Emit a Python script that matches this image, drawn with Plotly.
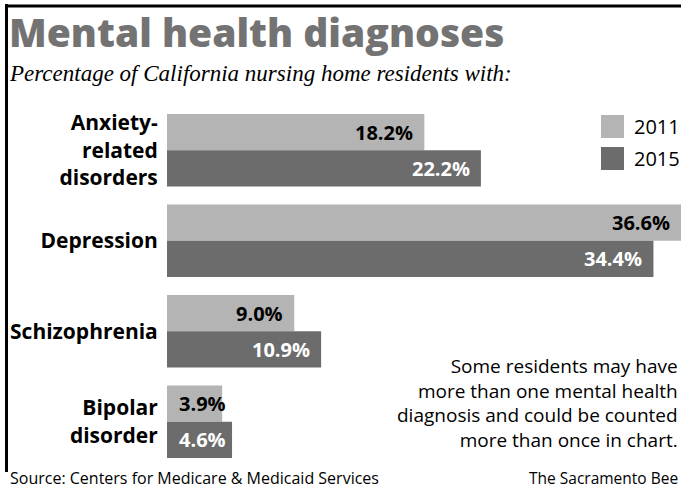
import plotly.graph_objects as go

categories = ["Anxiety-<br>related<br>disorders", "Depression", "Schizophrenia", "Bipolar<br>disorder"]
years = ["2011", "2015"]
values_2011 = [18.2, 36.6, 9.0, 3.9]
values_2015 = [22.2, 34.4, 10.9, 4.6]

LIGHT = "#b4b4b4"
DARK = "#6c6c6c"
W, H = 681, 488
L, R, T, B = 167, 0, 105, 21
PW, PH = W - L - R, H - T - B
XMAX = 36.35

def px(x):
    return (x - L) / PW

def py(y):
    return 1 - (y - T) / PH

SANS = "Open Sans, Liberation Sans, sans-serif"

fig = go.Figure()
fig.add_trace(go.Bar(y=categories, x=values_2011, orientation="h", name=years[0],
                     marker=dict(color=LIGHT, line=dict(width=0)), showlegend=False))
fig.add_trace(go.Bar(y=categories, x=values_2015, orientation="h", name=years[1],
                     marker=dict(color=DARK, line=dict(width=0)), showlegend=False))

annotations = []
for vals, shift, col in ((values_2011, 18, "black"), (values_2015, -18, "white")):
    for c, v in zip(categories, vals):
        narrow = v < 5
        annotations.append(dict(x=0 if narrow else min(v, XMAX), y=c, xref="x", yref="y",
                                text=f"{v:.1f}%",
                                xanchor="left" if narrow else "right", yanchor="middle",
                                xshift=10 if narrow else -9, yshift=shift,
                                showarrow=False,
                                font=dict(family=SANS, size=20, color=col, weight="bold")))

# title & subtitle
annotations.append(dict(x=px(7), y=py(3), xref="paper", yref="paper", text="Mental health diagnoses",
                        xanchor="left", yanchor="top", showarrow=False,
                        font=dict(family=SANS, size=39, color="#737373", weight=800)))
annotations.append(dict(x=px(7), y=py(59), xref="paper", yref="paper",
                        text="<i>Percentage of California nursing home residents with:</i>",
                        xanchor="left", yanchor="top", showarrow=False,
                        font=dict(family="Liberation Serif, serif", size=23, color="black")))
# legend
for i, (yr, col) in enumerate(zip(years, [LIGHT, DARK])):
    annotations.append(dict(x=px(632), y=py(127 + 31 * i), xref="paper", yref="paper", text=yr,
                            xanchor="left", yanchor="middle", showarrow=False,
                            font=dict(family=SANS, size=20, color="black")))
# note
annotations.append(dict(x=px(680), y=py(351), xref="paper", yref="paper",
                        text="Some residents may have<br>more than one mental health<br>diagnosis and could be counted<br>more than once in chart.",
                        xanchor="right", yanchor="top", align="right", showarrow=False,
                        font=dict(family=SANS, size=19, color="black")))
# footer
annotations.append(dict(x=px(8), y=py(478), xref="paper", yref="paper",
                        text="Source: Centers for Medicare & Medicaid Services",
                        xanchor="left", yanchor="middle", showarrow=False,
                        font=dict(family=SANS, size=16, color="black")))
annotations.append(dict(x=px(680), y=py(478), xref="paper", yref="paper",
                        text="The Sacramento Bee",
                        xanchor="right", yanchor="middle", showarrow=False,
                        font=dict(family=SANS, size=15.5, color="black")))

shapes = [
    dict(type="line", xref="paper", yref="paper", x0=px(6.5), x1=px(6.5), y0=py(4), y1=py(472),
         line=dict(color="black", width=3)),
    dict(type="line", xref="paper", yref="paper", x0=px(5), x1=px(681), y0=py(6), y1=py(6),
         line=dict(color="black", width=3)),
]
for i, col in enumerate([LIGHT, DARK]):
    shapes.append(dict(type="rect", xref="paper", yref="paper", x0=px(601), x1=px(624),
                       y0=py(115 + 32 * i), y1=py(138 + 32 * i), fillcolor=col, line=dict(width=0)))

fig.update_layout(
    width=W, height=H, margin=dict(l=L, r=R, t=T, b=B),
    plot_bgcolor="white", paper_bgcolor="white",
    barmode="group", bargap=0.2, bargroupgap=0,
    xaxis=dict(range=[0, XMAX], visible=False, fixedrange=True),
    yaxis=dict(autorange="reversed", showgrid=False, zeroline=False, showline=False,
               ticks="outside", ticklen=4, tickcolor="rgba(0,0,0,0)", fixedrange=True,
               tickfont=dict(family=SANS, size=21, color="black", weight="bold")),
    annotations=annotations, shapes=shapes,
)
fig.write_html("out.html", config={"displayModeBar": False},
               post_script="document.body.style.margin='0';document.body.style.overflow='hidden';")
